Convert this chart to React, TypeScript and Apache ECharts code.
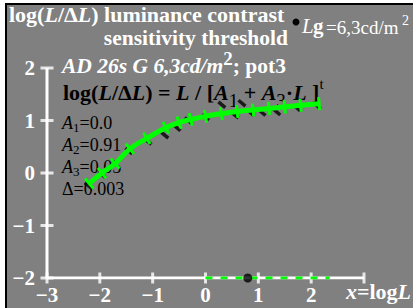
import React, { useEffect, useRef } from "react";
import * as echarts from "echarts";

const xTicks = [-3, -2, -1, 0, 1, 2, 3];
const yTicks = [-2, -1, 0, 1, 2];
const curveX = [-2.2, -1.96, -1.71, -1.43, -1.11, -0.75, -0.5, -0.28, 0.0, 0.3, 0.6, 0.9, 1.2, 1.5, 1.8, 2.15];
const curveY = [-0.2, 0.0, 0.18, 0.46, 0.66, 0.86, 0.96, 1.02, 1.08, 1.13, 1.17, 1.2, 1.23, 1.26, 1.29, 1.32];
const markX = [-2.22, -1.96, -1.45, -1.09, -0.77, -0.54, -0.33, 0.0, 0.31, 0.56, 0.69, 0.85, 1.07, 1.35, 1.73, 2.11];
const markY = [-0.24, -0.03, 0.42, 0.6, 0.72, 0.86, 1.0, 1.06, 1.3, 1.1, 1.33, 1.15, 1.15, 1.16, 1.24, 1.28];
const baseLineX = [0, 2.35];
const baseY = -2;
const adaptX = 0.8;
const xMin = -3;
const xMax = 3;
const yMin = -2;
const yMax = 2;

const SERIF = '"Liberation Serif", "DejaVu Serif", serif';
const GRAY = "#808080";
const GREEN = "#00ff00";

export default function App() {
  const ref = useRef<HTMLDivElement>(null);
  useEffect(() => {
    document.body.style.margin = "0";
    const chart = echarts.init(ref.current!, null, { renderer: "svg" });
    const curve = curveX.map((x, i) => [x, curveY[i]]);
    const marks = markX.map((x, i) => [x, markY[i]]);
    const angleAt = (i: number) => {
      const a = curve[Math.max(0, i - 1)];
      const b = curve[Math.min(curve.length - 1, i + 1)];
      return (Math.atan2(b[1] - a[1], b[0] - a[0]) * 180) / Math.PI;
    };
    const minus = (v: number) => String(v).replace("-", "\u2212");
    const axisLabel = { color: "#fff", fontSize: 21, fontWeight: "bold", fontFamily: SERIF };
    const txt = (x: number, y: number, text: string, font: string, fill = "#fff", align = "left", lineHeight?: number) => ({
      type: "text", z: 0, x, y,
      style: { text, font, fill, align, verticalAlign: "top", ...(lineHeight ? { lineHeight } : {}) },
    });
    chart.setOption({
      animation: false,
      backgroundColor: GRAY,
      grid: { left: 47, right: 49, top: 68, bottom: 30, containLabel: false },
      xAxis: {
        type: "value", min: xMin, max: xMax, interval: 1,
        axisLine: { show: false },
        axisTick: { show: false },
        splitLine: { show: false },
        axisLabel: { ...axisLabel, margin: 6, formatter: (v: number) => (v === 3 ? "" : minus(v)) },
      },
      yAxis: {
        type: "value", min: yMin, max: yMax, interval: 1,
        axisLine: { show: false },
        axisTick: { show: false },
        splitLine: { show: false },
        axisLabel: { ...axisLabel, margin: 12, formatter: (v: number) => minus(v) },
      },
      graphic: [
        { type: "rect", z: 0, shape: { x: 0, y: 0, width: 413, height: 3 }, style: { fill: "#fff" } },
        { type: "rect", z: 0, shape: { x: 0, y: 0, width: 5, height: 308 }, style: { fill: "#fff" } },
        { type: "rect", z: 0, shape: { x: 5, y: 3, width: 408, height: 2 }, style: { fill: "#000" } },
        { type: "rect", z: 0, shape: { x: 5, y: 3, width: 2, height: 305 }, style: { fill: "#000" } },
        {
          type: "text", z: 0, x: 9, y: 5,
          style: {
            text: "{b|log(}{bi|L}{b|/Δ}{bi|L}{b|) luminance contrast}",
            rich: {
              b: { fontFamily: SERIF, fontSize: 22, fontWeight: "bold", fill: "#fff", lineHeight: 19 },
              bi: { fontFamily: SERIF, fontSize: 22, fontWeight: "bold", fontStyle: "italic", fill: "#fff", lineHeight: 19 },
            },
          },
        },
        txt(288, 28, "sensitivity threshold", `bold 21.5px ${SERIF}`, "#fff", "right", 19),
        { type: "circle", z: 0, shape: { cx: 296, cy: 22, r: 3.5 }, style: { fill: "#000" } },
        txt(302, 15, "L", `italic 21px ${SERIF}`),
        txt(313, 15, "g", `bold 21px ${SERIF}`),
        txt(326, 18, "=6,3cd/m", `19px ${SERIF}`),
        txt(402, 13, "2", `14px ${SERIF}`),
        {
          type: "text", z: 0, x: 62, y: 49,
          style: {
            text: "{bi|AD 26s G 6,3cd/m}{s|2}{b|; pot3}",
            rich: {
              bi: { fontFamily: SERIF, fontSize: 21.5, fontWeight: "bold", fontStyle: "italic", fill: "#fff", lineHeight: 26, verticalAlign: "top", padding: [6, 0, 0, 0] },
              s: { fontFamily: SERIF, fontSize: 19, fontWeight: "bold", fill: "#fff", lineHeight: 20, verticalAlign: "top" },
              b: { fontFamily: SERIF, fontSize: 21.5, fontWeight: "bold", fill: "#fff", lineHeight: 26, verticalAlign: "top", padding: [6, 0, 0, 0] },
            },
          },
        },
        {
          type: "text", z: 0, x: 63, y: 76,
          style: {
            text: "{b|log(}{bi|L}{b|/Δ}{bi|L}{b|) = }{bi|L}{b| / [}{bi|A}{sub|1}{b| + }{bi|A}{sub|3}{b|·}{bi|L}{b| ]}{sup|t}",
            rich: {
              b: { fontFamily: SERIF, fontSize: 22, fontWeight: "bold", fill: "#000", lineHeight: 26, verticalAlign: "top", padding: [5, 0, 0, 0] },
              bi: { fontFamily: SERIF, fontSize: 22, fontWeight: "bold", fontStyle: "italic", fill: "#000", lineHeight: 26, verticalAlign: "top", padding: [5, 0, 0, 0] },
              sub: { fontFamily: SERIF, fontSize: 19, fill: "#000", lineHeight: 20, verticalAlign: "top", padding: [15, 0, 0, 0] },
              sup: { fontFamily: SERIF, fontSize: 15, fill: "#000", lineHeight: 16, verticalAlign: "top" },
            },
          },
        },
        ...[
          ["1", "=0.0", 114],
          ["2", "=0.91", 136],
          ["3", "=0.05", 158],
        ].map(([s, v, y]) => ({
          type: "text", z: 0, x: 62, y: y as number,
          style: {
            text: `{i|A}{sub|${s}}{r|${v}}`,
            rich: {
              i: { fontFamily: SERIF, fontSize: 18, fontStyle: "italic", fill: "#000", lineHeight: 20, verticalAlign: "top" },
              r: { fontFamily: SERIF, fontSize: 18, fill: "#000", lineHeight: 20, verticalAlign: "top" },
              sub: { fontFamily: SERIF, fontSize: 13, fill: "#000", lineHeight: 13, verticalAlign: "top", padding: [7, 0, 0, 0] },
            },
          },
        })),
        txt(62, 180, "Δ=0.003", `18px ${SERIF}`, "#000", "left", 17),
        {
          type: "text", z: 0, x: 411, y: 281,
          style: {
            text: "{i|x}{r|=log}{i|L}",
            align: "right",
            rich: {
              i: { fontFamily: SERIF, fontSize: 22, fontWeight: "bold", fontStyle: "italic", fill: "#fff", lineHeight: 20 },
              r: { fontFamily: SERIF, fontSize: 22, fontWeight: "bold", fill: "#fff", lineHeight: 20 },
            },
          },
        },
      ],
      series: [
        {
          type: "line", data: [[xMin, yMin], [xMax, yMin]], symbol: "none", z: 1, silent: true,
          lineStyle: { color: "#fff", width: 3 },
        },
        {
          type: "line", data: [[xMin, yMin], [xMin, yMax]], symbol: "none", z: 1, silent: true,
          lineStyle: { color: "#fff", width: 3 },
        },
        {
          type: "scatter", data: xTicks.map((t) => [t, yMin]), symbol: "rect", symbolSize: [3, 11], z: 2,
          itemStyle: { color: "#fff" }, silent: true,
        },
        {
          type: "scatter", data: yTicks.map((t) => [xMin, t]), symbol: "rect", symbolSize: [13, 3], z: 2,
          itemStyle: { color: "#fff" }, silent: true,
        },
        {
          type: "line", data: baseLineX.map((x) => [x, baseY]), symbol: "none", z: 3,
          lineStyle: { color: GREEN, width: 3, type: [7, 8] },
        },
        {
          type: "scatter", data: [[adaptX, baseY]], symbol: "circle", symbolSize: 9, z: 5,
          itemStyle: { color: "#000" },
        },
        {
          type: "scatter", data: marks, symbol: "rect", symbolSize: [9, 3.5], symbolRotate: -40, z: 3,
          itemStyle: { color: "#000" },
        },
        {
          type: "line", data: curve, smooth: true, z: 4,
          lineStyle: { color: GREEN, width: 5 },
          symbol: "rect", symbolSize: [3, 13],
          symbolRotate: (_v: any, p: any) => angleAt(p.dataIndex),
          showAllSymbol: true,
          itemStyle: { color: GREEN, borderWidth: 0 },
        },
      ],
    });
    return () => chart.dispose();
  }, []);
  return <div ref={ref} style={{ width: 413, height: 308 }} />;
}
